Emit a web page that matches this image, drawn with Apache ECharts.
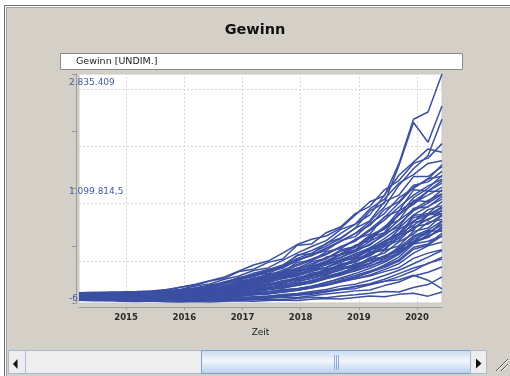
<!DOCTYPE html>
<html><head><meta charset="utf-8">
<script src="https://cdn.jsdelivr.net/npm/echarts@6/dist/echarts.min.js"></script>
<style>html,body{margin:0;padding:0;background:#fff}#c{width:510px;height:376px}</style>
</head><body><div id="c"></div>
<script>
// ---- text ----
const titleText = 'Gewinn';
const legendText = 'Gewinn [UNDIM.]';
const xAxisName = 'Zeit';
// ---- axes (values in Tausend) ----
const xMin = 2014.19, xMax = 2020.43;
const yearTicks = [2015, 2016, 2017, 2018, 2019, 2020];
const yMinTsd = -635.780, yMaxTsd = 2835.409;
const gridValuesTsd = [0, 870, 1740, 2610];
// ---- time points (Jahre) ----
const times = [2014.19,2014.44,2014.69,2014.94,2015.19,2015.44,2015.69,2015.94,2016.19,2016.44,2016.69,2016.94,2017.19,2017.44,2017.69,2017.94,2018.19,2018.44,2018.69,2018.94,2019.19,2019.44,2019.69,2019.94,2020.19,2020.43];
// ---- Gewinn runs (Tausend) ----
const run01 = [-594,-601,-597,-609,-612,-606,-618,-621,-612,-619,-608,-603,-611,-598,-590,-597,-580,-566,-574,-552,-530,-541,-505,-488,-532,-470];
const run02 = [-587,-592,-599,-594,-603,-610,-605,-598,-607,-601,-594,-599,-585,-578,-583,-566,-549,-557,-531,-512,-488,-463,-470,-402,-356,-240];
const run03 = [-579,-583,-590,-600,-596,-591,-598,-608,-600,-590,-596,-583,-572,-563,-548,-554,-527,-498,-476,-452,-440,-372,-318,-225,-170,-90];
const run04 = [-583,-589,-585,-591,-601,-597,-603,-599,-593,-585,-577,-586,-566,-549,-541,-517,-503,-468,-430,-418,-360,-305,-282,-215,-290,-420];
const run05 = [-575,-580,-586,-583,-592,-595,-589,-596,-588,-583,-573,-565,-560,-541,-530,-509,-490,-452,-430,-381,-345,-276,-190,-105,-40,60];
const run06 = [-570,-577,-575,-584,-586,-590,-592,-586,-580,-575,-568,-557,-545,-533,-520,-505,-478,-458,-418,-390,-354,-308,-236,-148,-32,30];
const run07 = [-568,-571,-578,-581,-578,-585,-582,-578,-572,-560,-548,-528,-504,-490,-452,-420,-378,-330,-255,-190,-110,-20,100,280,360,520];
const run08 = [-564,-568,-572,-570,-579,-576,-580,-572,-568,-556,-552,-530,-510,-492,-474,-446,-404,-372,-316,-268,-212,-130,-40,120,230,290];
const run09 = [-560,-566,-565,-574,-570,-578,-572,-569,-558,-560,-540,-512,-494,-470,-430,-418,-386,-322,-270,-220,-150,-78,20,210,260,420];
const run10 = [-557,-561,-567,-564,-571,-568,-575,-566,-560,-548,-538,-515,-486,-462,-444,-424,-394,-350,-300,-270,-226,-160,-100,40,120,170];
const run11 = [-555,-559,-561,-568,-565,-570,-566,-560,-548,-540,-522,-498,-468,-432,-402,-372,-320,-262,-190,-120,-40,70,200,380,470,610];
const run12 = [-552,-557,-558,-563,-567,-561,-560,-552,-542,-528,-510,-488,-458,-425,-400,-356,-318,-262,-200,-150,-70,0,120,290,380,470];
const run13 = [-550,-552,-559,-557,-562,-557,-551,-547,-534,-520,-505,-472,-450,-416,-380,-344,-296,-230,-172,-96,-30,80,150,360,440,540];
const run14 = [-548,-550,-551,-557,-553,-555,-545,-540,-524,-515,-482,-466,-424,-404,-350,-322,-250,-214,-110,-80,50,120,290,410,590,630];
const run15 = [-545,-546,-552,-549,-553,-544,-543,-527,-521,-498,-482,-442,-420,-370,-342,-272,-232,-136,-76,30,110,290,390,690,720,900];
const run16 = [-543,-547,-545,-550,-544,-546,-533,-529,-508,-498,-464,-440,-396,-368,-310,-280,-200,-166,-60,-20,110,180,360,500,640,720];
const run17 = [-540,-542,-546,-544,-546,-537,-536,-518,-509,-478,-456,-416,-398,-342,-312,-248,-206,-120,-66,30,90,250,340,590,620,770];
const run18 = [-538,-540,-541,-545,-539,-539,-527,-520,-494,-480,-442,-420,-376,-356,-306,-290,-226,-200,-118,-96,10,30,220,290,460,450];
const run19 = [-535,-538,-535,-541,-535,-532,-519,-510,-487,-474,-436,-410,-352,-326,-258,-224,-140,-100,10,60,200,260,480,600,780,840];
const run20 = [-532,-533,-537,-532,-534,-524,-518,-497,-484,-452,-434,-390,-330,-296,-222,-180,-80,-30,110,170,360,430,720,860,1060,1180];
const run21 = [-530,-528,-534,-527,-531,-520,-513,-490,-478,-444,-424,-364,-334,-270,-232,-150,-110,-10,50,170,240,420,520,800,820,980];
const run22 = [-525,-530,-526,-528,-521,-521,-503,-494,-464,-448,-406,-380,-322,-298,-238,-206,-130,-96,0,40,170,230,410,540,700,720];
const run23 = [-523,-522,-526,-519,-522,-511,-505,-479,-466,-428,-406,-342,-310,-240,-200,-110,-66,60,100,240,310,520,620,920,900,1080];
const run24 = [-517,-521,-516,-520,-512,-512,-496,-484,-452,-436,-386,-346,-280,-248,-170,-110,-10,40,170,220,390,500,760,900,1060,1060];
const run25 = [-514,-511,-514,-508,-509,-498,-493,-464,-448,-404,-380,-302,-272,-196,-164,-20,10,140,190,330,410,670,760,1080,1060,1220];
const run26 = [-506,-507,-503,-504,-496,-494,-476,-458,-420,-396,-338,-292,-220,-186,-96,0,96,160,310,370,570,720,960,1100,1250,1280];
const run27 = [-501,-497,-498,-492,-492,-481,-474,-436,-416,-362,-328,-248,-212,-128,-86,90,110,270,350,500,610,900,1000,1280,1280,1430];
const run28 = [-489,-491,-483,-484,-476,-473,-450,-426,-378,-348,-276,-226,-144,-104,10,120,220,310,480,560,790,940,1180,1310,1480,1520];
const run29 = [-479,-475,-474,-468,-470,-456,-446,-394,-368,-302,-262,-160,-124,-20,30,240,260,430,520,720,830,1080,1220,1480,1560,1780];
const run30 = [-544,-541,-548,-546,-542,-548,-538,-524,-514,-490,-470,-430,-410,-358,-320,-270,-220,-142,-90,0,80,220,310,520,560,700];
const run31 = [-536,-540,-538,-536,-540,-532,-520,-512,-490,-466,-444,-400,-370,-320,-270,-226,-160,-100,-20,70,160,300,420,660,700,820];
const run32 = [-528,-526,-530,-524,-526,-516,-508,-490,-472,-440,-416,-360,-320,-268,-216,-140,-90,-6,90,160,300,420,620,780,920,1020];
const run33 = [-551,-549,-555,-560,-556,-560,-552,-544,-538,-518,-506,-474,-452,-410,-386,-340,-300,-240,-180,-110,-40,60,180,330,420,560];
const run34 = [-520,-523,-520,-522,-517,-515,-500,-486,-458,-438,-394,-360,-292,-256,-180,-130,-40,30,150,210,380,480,700,880,1000,1120];
const run35 = [-567,-570,-576,-573,-580,-582,-578,-575,-570,-562,-546,-534,-512,-494,-470,-440,-410,-360,-300,-240,-170,-60,60,260,400,600];
const run36 = [-534,-533,-538,-535,-533,-529,-520,-504,-488,-462,-436,-392,-352,-300,-250,-196,-130,-60,20,110,200,340,500,700,830,940];
const run37 = [-482,-478,-474,-470,-462,-452,-430,-398,-350,-300,-240,-150,-60,0,120,250,330,380,500,700,900,990,1480,2150,2260,2835];
const run38 = [-495,-490,-492,-485,-480,-476,-460,-445,-420,-385,-330,-270,-210,-150,-80,40,120,230,340,500,760,880,1450,2100,1800,2350];
const run39 = [-505,-500,-503,-496,-494,-488,-476,-452,-430,-392,-350,-280,-230,-160,-96,20,90,200,300,420,600,820,1150,1400,1600,2150];
const run40 = [-497,-495,-490,-491,-484,-478,-462,-444,-404,-376,-312,-262,-186,-130,-60,80,160,260,420,560,700,1000,1300,1500,1700,1650];
const run41 = [-546,-552,-549,-553,-558,-550,-548,-536,-530,-506,-494,-458,-436,-392,-366,-300,-270,-196,-140,-40,0,160,230,450,500,690];
const run42 = [-533,-531,-536,-530,-535,-526,-516,-502,-478,-458,-426,-386,-344,-288,-240,-170,-110,-30,60,140,260,390,560,760,880,1010];
const run43 = [-524,-520,-524,-521,-518,-516,-503,-485,-460,-432,-402,-352,-316,-262,-214,-150,-110,-40,20,90,180,300,420,610,700,800];
const run44 = [-512,-514,-510,-511,-505,-503,-488,-470,-440,-414,-370,-316,-258,-214,-140,-50,30,110,220,300,460,620,820,1000,1140,1240];
const run45 = [-556,-554,-562,-559,-566,-563,-567,-558,-552,-536,-526,-494,-474,-436,-412,-368,-332,-270,-214,-140,-80,30,130,300,360,500];
const run46 = [-574,-578,-582,-588,-586,-592,-586,-590,-582,-576,-566,-560,-540,-530,-506,-490,-460,-430,-380,-350,-290,-220,-140,-40,60,160];
const run47 = [-541,-539,-545,-542,-548,-541,-531,-524,-503,-486,-448,-430,-380,-362,-296,-270,-180,-150,-40,-10,140,160,400,470,700,760];
const run48 = [-527,-529,-525,-527,-524,-520,-507,-491,-470,-442,-414,-368,-318,-276,-220,-160,-80,0,110,210,340,520,700,960,1100,1300];
const run49 = [-504,-506,-501,-500,-497,-489,-480,-450,-428,-382,-344,-276,-236,-160,-110,20,80,190,300,420,540,780,900,1150,1200,1360];
const run50 = [-566,-569,-574,-578,-575,-581,-576,-580,-568,-565,-546,-538,-508,-498,-460,-436,-390,-360,-290,-250,-170,-100,0,180,240,380];
const run51 = [-543,-544,-549,-547,-549,-542,-540,-526,-516,-494,-470,-438,-400,-370,-318,-284,-220,-180,-100,-60,30,60,160,260,300,380];
const run52 = [-519,-517,-519,-515,-514,-507,-497,-478,-454,-424,-386,-330,-280,-224,-168,-70,10,100,210,320,480,660,880,1120,1240,1460];

const runs = [run01,run02,run03,run04,run05,run06,run07,run08,run09,run10,run11,run12,run13,run14,run15,run16,run17,run18,run19,run20,
  run21,run22,run23,run24,run25,run26,run27,run28,run29,run30,run31,run32,run33,run34,run35,run36,run37,run38,run39,run40,
  run41,run42,run43,run44,run45,run46,run47,run48,run49,run50,run51,run52];

function fmtDe(vTsd) {
  const v = Math.round(vTsd * 10000) / 10;
  const neg = v < 0; const a = Math.abs(v);
  const ip = Math.floor(a + 1e-9); const frac = Math.round((a - ip) * 10);
  let s = String(ip).replace(/\B(?=(\d{3})+(?!\d))/g, '.');
  if (frac) s += ',' + frac;
  return (neg ? '-' : '') + s;
}
const yMid = (yMinTsd + yMaxTsd) / 2;
const yQuarter = (yMaxTsd - yMinTsd) / 4;
const yTickValues = [yMinTsd, yMinTsd + yQuarter, yMid, yMinTsd + 3 * yQuarter, yMaxTsd];
function yLabel(v) {
  const s = fmtDe(v);
  return Math.abs(v - yMid) < 1e-6 ? '{m|' + s + '}' : '{n|' + s + '}';
}

const lineColor = '#3b4fa3';
const series = runs.map((r, k) => ({
  type: 'line', name: 'run' + (k + 1), data: r.map((v, i) => [times[i], v]),
  symbol: 'none', silent: true, lineStyle: { color: lineColor, width: 1.5 }, z: 3
}));
series.unshift({
  type: 'line', data: [], silent: true, z: 1,
  markLine: {
    silent: true, symbol: 'none', z: 1, animation: false, label: { show: false },
    lineStyle: { type: [2, 2], color: '#d6d6d6', width: 1 },
    data: gridValuesTsd.map(v => ({ yAxis: v })).concat(yearTicks.map(v => ({ xAxis: v })))
  }
});

const labelFont = { fontFamily: 'DejaVu Sans', fontSize: 9, color: '#4058a8' };
const chart = echarts.init(document.getElementById('c'), null, { renderer: 'canvas' });
const thumbFill = new echarts.graphic.LinearGradient(0, 0, 0, 1, [
  { offset: 0, color: '#c6d9f1' }, { offset: 0.45, color: '#f3f7fc' }, { offset: 1, color: '#b8ceec' }]);
chart.setOption({
  animation: false,
  backgroundColor: '#d4d0c8',
  title: { text: titleText, left: 'center', top: 23, padding: 0,
    textStyle: { fontFamily: 'DejaVu Sans', fontSize: 14.5, fontWeight: 'bold', color: '#111' } },
  grid: { left: 79, top: 74, width: 363, height: 229, show: true, backgroundColor: '#fff',
    borderColor: '#c8c8c8', borderWidth: 1 },
  xAxis: {
    type: 'value', min: xMin, max: xMax, offset: 4,
    name: xAxisName, nameLocation: 'middle', nameGap: 21,
    nameTextStyle: { fontFamily: 'DejaVu Sans', fontSize: 9, color: '#222' },
    axisLine: { show: true, onZero: false, lineStyle: { color: '#9a9a9a' } },
    axisTick: { show: true, length: 3, customValues: yearTicks, lineStyle: { color: '#9a9a9a' } },
    splitLine: { show: false },
    axisLabel: { customValues: yearTicks, formatter: v => String(Math.round(v)), margin: 6,
      fontFamily: 'DejaVu Sans', fontSize: 8.5, fontWeight: 'bold', color: '#2a2a2a' }
  },
  yAxis: {
    type: 'value', min: yMinTsd, max: yMaxTsd, offset: 3,
    axisLine: { show: true, onZero: false, lineStyle: { color: '#9a9a9a' } },
    axisTick: { show: true, length: 4, customValues: yTickValues, lineStyle: { color: '#9a9a9a' } },
    splitLine: { show: false },
    axisLabel: Object.assign({ customValues: [yMinTsd, yMid, yMaxTsd], formatter: yLabel, align: 'left', margin: 7,
      verticalAlignMinLabel: 'bottom', verticalAlignMaxLabel: 'top', padding: [4, 0, 0, 0],
      rich: { m: Object.assign({ padding: [3, 0, 0, 0] }, labelFont), n: Object.assign({}, labelFont) } }, labelFont)
  },
  series: series,
  graphic: [
    { type: 'rect', silent: true, z: 100, shape: { x: 0, y: 0, width: 510, height: 5 }, style: { fill: '#fff' } },
    { type: 'rect', silent: true, z: 100, shape: { x: 0, y: 0, width: 4, height: 376 }, style: { fill: '#fff' } },
    { type: 'polyline', silent: true, z: 101, shape: { points: [[4.5, 376], [4.5, 5.5], [510, 5.5]] }, style: { stroke: '#6a6a6a', fill: null, lineWidth: 1 } },
    { type: 'polyline', silent: true, z: 101, shape: { points: [[5.5, 376], [5.5, 6.5], [510, 6.5]] }, style: { stroke: '#ffffff', fill: null, lineWidth: 1 } },
    { type: 'polyline', silent: true, z: 101, shape: { points: [[6.5, 376], [6.5, 7.5], [510, 7.5]] }, style: { stroke: '#a4a4a4', fill: null, lineWidth: 1 } },
    { type: 'rect', silent: true, z: 100, shape: { x: 60.5, y: 53.5, width: 402, height: 16 }, style: { fill: '#fff', stroke: '#8a8a8a', lineWidth: 1 } },
    { type: 'text', silent: true, z: 101, x: 76, y: 61.5, style: { text: legendText, fontFamily: 'DejaVu Sans', fontSize: 9.5, fill: '#222', verticalAlign: 'middle' } },
    // scrollbar
    { type: 'rect', silent: true, z: 100, shape: { x: 8.5, y: 350.5, width: 478, height: 23 }, style: { fill: '#eeeeee', stroke: '#a6b9d8', lineWidth: 1 } },
    { type: 'rect', silent: true, z: 101, shape: { x: 8.5, y: 350.5, width: 17, height: 23 }, style: { fill: '#eeeeee', stroke: '#a6b9d8', lineWidth: 1 } },
    { type: 'polygon', silent: true, z: 102, shape: { points: [[13, 364], [17.5, 359], [17.5, 369]] }, style: { fill: '#111' } },
    { type: 'rect', silent: true, z: 101, shape: { x: 201.5, y: 350.5, width: 269, height: 23 }, style: { fill: thumbFill, stroke: '#7c9fd8', lineWidth: 1 } },
    { type: 'line', silent: true, z: 102, shape: { x1: 334.5, y1: 355, x2: 334.5, y2: 370 }, style: { stroke: '#8eaadf', lineWidth: 1 } },
    { type: 'line', silent: true, z: 102, shape: { x1: 336.5, y1: 355, x2: 336.5, y2: 370 }, style: { stroke: '#8eaadf', lineWidth: 1 } },
    { type: 'line', silent: true, z: 102, shape: { x1: 338.5, y1: 355, x2: 338.5, y2: 370 }, style: { stroke: '#8eaadf', lineWidth: 1 } },
    { type: 'rect', silent: true, z: 101, shape: { x: 470.5, y: 350.5, width: 16, height: 23 }, style: { fill: '#eeeeee', stroke: '#a6b9d8', lineWidth: 1 } },
    { type: 'polygon', silent: true, z: 102, shape: { points: [[476, 358.5], [481.5, 363.5], [476, 368.5]] }, style: { fill: '#111' } },
    { type: 'line', silent: true, z: 102, shape: { x1: 496, y1: 371, x2: 508, y2: 359 }, style: { stroke: '#555', lineWidth: 1 } },
    { type: 'line', silent: true, z: 102, shape: { x1: 497, y1: 371, x2: 508, y2: 360 }, style: { stroke: '#fff', lineWidth: 1 } },
    { type: 'line', silent: true, z: 102, shape: { x1: 501, y1: 371, x2: 508, y2: 364 }, style: { stroke: '#555', lineWidth: 1 } },
    { type: 'line', silent: true, z: 102, shape: { x1: 502, y1: 371, x2: 508, y2: 365 }, style: { stroke: '#fff', lineWidth: 1 } }
  ]
});
</script>
</body></html>
